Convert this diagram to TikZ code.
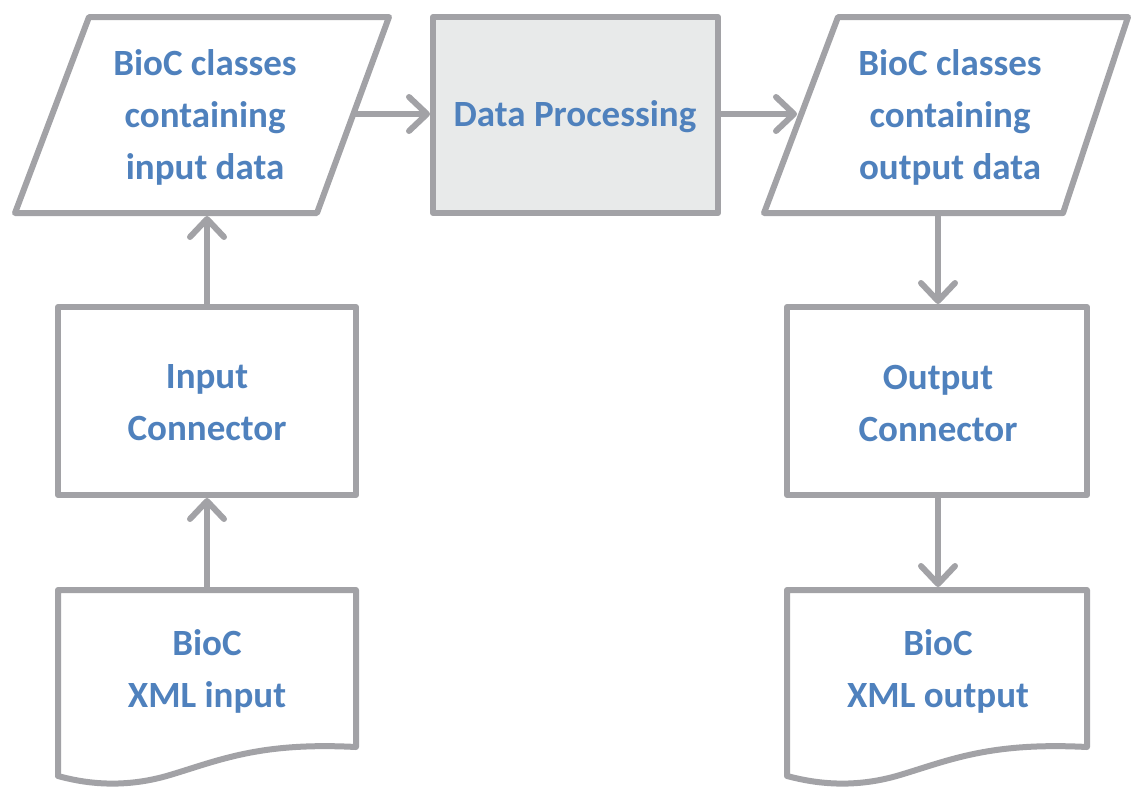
\documentclass[tikz,border=0pt]{standalone}
\usepackage{fontspec}
\setmainfont{Carlito}
\usetikzlibrary{arrows.meta}
\definecolor{lgray}{HTML}{A2A2A6}
\definecolor{tblue}{HTML}{4F81BD}
\definecolor{pfill}{HTML}{E8EAEA}
\tikzset{
  shapeline/.style={draw=lgray,line width=6pt,line join=round},
  lbl/.style={text=tblue,font=\fontsize{37}{52}\selectfont\bfseries,align=center},
  conn/.style={draw=lgray,line width=6pt,line cap=round,-{Straight Barb[length=18pt,width=34pt,line cap=round,line join=round]}},
}
\begin{document}
\begin{tikzpicture}[x=1pt,y=-1pt]
\useasboundingbox (0,0) rectangle (1132,787);
% shapes
\draw[shapeline,fill=white] (89,17) -- (389,17) -- (317,213) -- (15,213) -- cycle;
\draw[shapeline,fill=pfill] (433,17) rectangle (718,213);
\draw[shapeline,fill=white] (838,17) -- (1128,17) -- (1063,213) -- (764,213) -- cycle;
\draw[shapeline,fill=white] (58,307) rectangle (356,495);
\draw[shapeline,fill=white] (787,307) rectangle (1087,495);
\draw[shapeline,fill=white] (58,590) -- (356,590) -- (356,747) .. controls (260,742) and (220,760) .. (170,775) .. controls (120,790) and (80,782) .. (58,776) -- cycle;
\draw[shapeline,fill=white] (787,590) -- (1087,590) -- (1087,747) .. controls (990,742) and (950,760) .. (900,775) .. controls (850,790) and (810,782) .. (787,776) -- cycle;
% labels
\node[lbl] (inclass) at (205,117) {BioC classes\\containing\\input data};
\node[lbl] (proc) at (575,117) {Data Processing};
\node[lbl] (outclass) at (950,117) {BioC classes\\containing\\output data};
\node[lbl] (incon) at (207,403) {Input\\Connector};
\node[lbl] (outcon) at (938,403) {Output\\Connector};
\node[lbl] (inxml) at (207,671) {BioC\\XML input};
\node[lbl] (outxml) at (938,671) {BioC\\XML output};
% anchor coordinates
\coordinate (inclassE) at (355,114);
\coordinate (procW) at (430,114);
\coordinate (procE) at (721,114);
\coordinate (outclassW) at (797,114);
\coordinate (inclassS) at (207,216);
\coordinate (inconN) at (207,304);
\coordinate (inconS) at (207,498);
\coordinate (inxmlN) at (207,587);
\coordinate (outclassS) at (938,216);
\coordinate (outconN) at (938,304);
\coordinate (outconS) at (938,498);
\coordinate (outxmlN) at (938,587);
% connectors
\draw[conn] (inclassE) -- (procW);
\draw[conn] (procE) -- (outclassW);
\draw[conn] (inconN) -- (inclassS);
\draw[conn] (inxmlN) -- (inconS);
\draw[conn] (outclassS) -- (outconN);
\draw[conn] (outconS) -- (outxmlN);
\end{tikzpicture}
\end{document}
